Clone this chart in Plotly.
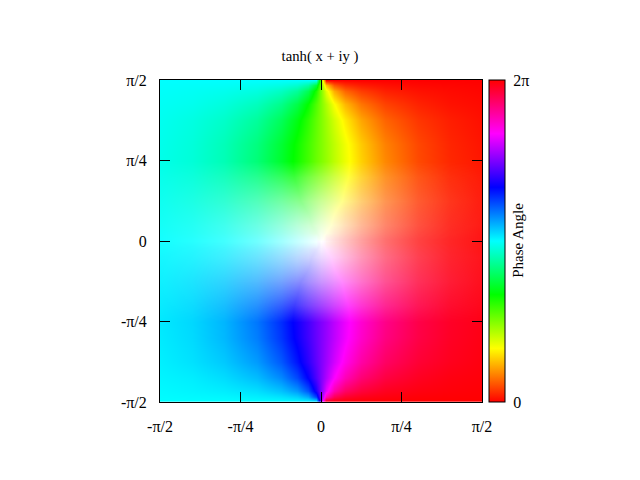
import plotly.graph_objects as go

# Grid nodes, in units of pi/2
x_nodes = [-1, -.8, -.6, -.4, -.25, -.15, -.08, -.03, 0, .03, .08, .15, .25, .4, .6, .8, 1]
y_upper = [0, .004, .05, .1, .25, .4, .5, .6, .75, .85, .93, .97, 1]
y_lower = [-1, -.97, -.93, -.85, -.75, -.6, -.5, -.4, -.25, -.1, -.05, -.004, 0]
y_white = [-1, -.75, -.6, -.5, -.4, -.25, -.1, 0, .1, .25, .4, .5, .6, .75, 1]

# Phase angle (radians), upper half of the plane
phase_upper = [
    [3.14, 3.14, 3.14, 3.14, 3.14, 3.14, 3.14, 3.14, 1.57, 0, 0, 0, 0, 0, 0, 0, 0],
    [3.14, 3.14, 3.14, 3.14, 3.14, 3.14, 3.14, 3.14, 1.57, 0, 0, 0, 0, 0, 0, 0, 0],
    [3.13, 3.11, 3.09, 3.04, 2.96, 2.84, 2.59, 2.11, 1.57, 1.03, .55, .31, .18, .10, .05, .03, .01],
    [3.11, 3.09, 3.05, 2.95, 2.80, 2.58, 2.26, 1.86, 1.57, 1.28, .88, .56, .34, .19, .10, .05, .03],
    [3.08, 3.02, 2.92, 2.73, 2.46, 2.17, 1.91, 1.70, 1.57, 1.44, 1.23, .97, .68, .41, .22, .12, .06],
    [3.06, 2.99, 2.85, 2.61, 2.31, 2.04, 1.83, 1.67, 1.57, 1.47, 1.31, 1.10, .83, .53, .29, .15, .08],
    [3.05, 2.98, 2.84, 2.58, 2.28, 2.02, 1.82, 1.66, 1.57, 1.48, 1.32, 1.12, .86, .56, .30, .16, .09],
    [3.06, 2.99, 2.85, 2.61, 2.31, 2.04, 1.83, 1.67, 1.57, 1.47, 1.31, 1.10, .83, .53, .29, .15, .08],
    [3.08, 3.02, 2.92, 2.73, 2.46, 2.17, 1.91, 1.70, 1.57, 1.44, 1.23, .97, .68, .41, .22, .12, .06],
    [3.10, 3.07, 3.00, 2.87, 2.66, 2.39, 2.08, 1.77, 1.57, 1.37, 1.06, .75, .48, .27, .14, .07, .04],
    [3.12, 3.10, 3.07, 3.01, 2.89, 2.72, 2.43, 1.98, 1.57, 1.16, .71, .42, .25, .13, .07, .04, .02],
    [3.13, 3.12, 3.11, 3.08, 3.03, 2.95, 2.78, 2.35, 1.57, .79, .36, .19, .11, .06, .03, .02, .01],
    [3.14, 3.14, 3.14, 3.14, 3.14, 3.14, 3.14, 3.14, 1.57, 0, 0, 0, 0, 0, 0, 0, 0],
]

# Phase angle (radians), lower half of the plane
phase_lower = [
    [3.14, 3.14, 3.14, 3.14, 3.14, 3.14, 3.14, 3.14, 4.71, 6.28, 6.28, 6.28, 6.28, 6.28, 6.28, 6.28, 6.28],
    [3.15, 3.16, 3.17, 3.20, 3.25, 3.33, 3.50, 3.93, 4.71, 5.49, 5.92, 6.09, 6.17, 6.22, 6.25, 6.26, 6.27],
    [3.16, 3.18, 3.21, 3.27, 3.39, 3.56, 3.85, 4.30, 4.71, 5.12, 5.57, 5.86, 6.03, 6.15, 6.21, 6.24, 6.26],
    [3.18, 3.21, 3.28, 3.41, 3.62, 3.89, 4.20, 4.51, 4.71, 4.91, 5.22, 5.53, 5.80, 6.01, 6.14, 6.21, 6.24],
    [3.20, 3.26, 3.36, 3.55, 3.82, 4.11, 4.37, 4.58, 4.71, 4.84, 5.05, 5.31, 5.60, 5.87, 6.06, 6.16, 6.22],
    [3.22, 3.29, 3.43, 3.67, 3.97, 4.24, 4.45, 4.61, 4.71, 4.81, 4.97, 5.18, 5.45, 5.75, 5.99, 6.13, 6.20],
    [3.23, 3.30, 3.44, 3.70, 4.00, 4.26, 4.46, 4.62, 4.71, 4.80, 4.96, 5.16, 5.42, 5.72, 5.98, 6.12, 6.19],
    [3.22, 3.29, 3.43, 3.67, 3.97, 4.24, 4.45, 4.61, 4.71, 4.81, 4.97, 5.18, 5.45, 5.75, 5.99, 6.13, 6.20],
    [3.20, 3.26, 3.36, 3.55, 3.82, 4.11, 4.37, 4.58, 4.71, 4.84, 5.05, 5.31, 5.60, 5.87, 6.06, 6.16, 6.22],
    [3.17, 3.19, 3.23, 3.33, 3.48, 3.70, 4.02, 4.42, 4.71, 5.00, 5.40, 5.72, 5.94, 6.09, 6.18, 6.23, 6.25],
    [3.15, 3.17, 3.19, 3.24, 3.32, 3.45, 3.69, 4.17, 4.71, 5.25, 5.73, 5.97, 6.10, 6.18, 6.23, 6.25, 6.27],
    [3.14, 3.14, 3.14, 3.14, 3.14, 3.14, 3.14, 3.14, 4.71, 6.28, 6.28, 6.28, 6.28, 6.28, 6.28, 6.28, 6.28],
    [3.14, 3.14, 3.14, 3.14, 3.14, 3.14, 3.14, 3.14, 4.71, 6.28, 6.28, 6.28, 6.28, 6.28, 6.28, 6.28, 6.28],
]

# Colour saturation (0 = white, 1 = full hue)
saturation = [
    [1] * 17,
    [1] * 17,
    [1] * 17,
    [1] * 17,
    [.97, .95, .91, .85, .79, .75, .73, .73, .73, .73, .73, .75, .79, .85, .91, .95, .97],
    [.94, .89, .81, .68, .55, .47, .43, .42, .41, .42, .43, .47, .55, .68, .81, .89, .94],
    [.92, .86, .75, .58, .41, .28, .20, .17, .16, .17, .20, .28, .41, .58, .75, .86, .92],
    [.92, .85, .74, .56, .37, .23, .13, .05, 0, .05, .13, .23, .37, .56, .74, .85, .92],
    [.92, .86, .75, .58, .41, .28, .20, .17, .16, .17, .20, .28, .41, .58, .75, .86, .92],
    [.94, .89, .81, .68, .55, .47, .43, .42, .41, .42, .43, .47, .55, .68, .81, .89, .94],
    [.97, .95, .91, .85, .79, .75, .73, .73, .73, .73, .73, .75, .79, .85, .91, .95, .97],
    [1] * 17,
    [1] * 17,
    [1] * 17,
    [1] * 17,
]

tick_vals = [-1, -.5, 0, .5, 1]
x_tick_labels = ["-π/2", "-π/4", "0", "π/4", "π/2"]
y_tick_labels = ["-π/2", "-π/4", "0", "π/4", "π/2"]
bar_tick_vals = [0, 6.28]
bar_tick_labels = ["0", "2π"]

FONT = "Liberation Serif"
hue_scale = [[0, "#ff0000"], [1/6, "#ffff00"], [2/6, "#00ff00"], [3/6, "#00ffff"],
             [4/6, "#0000ff"], [5/6, "#ff00ff"], [1, "#ff0000"]]
white_scale = [[0, "rgba(255,255,255,1)"], [1, "rgba(255,255,255,0)"]]

fig = go.Figure()
fig.add_trace(go.Heatmap(x=x_nodes, y=y_upper, z=phase_upper, coloraxis="coloraxis",
                         zsmooth="best", hoverinfo="skip"))
fig.add_trace(go.Heatmap(x=x_nodes, y=y_lower, z=phase_lower, coloraxis="coloraxis",
                         zsmooth="best", hoverinfo="skip"))
fig.add_trace(go.Heatmap(x=x_nodes, y=y_white, z=saturation, zmin=0, zmax=1,
                         colorscale=white_scale, showscale=False,
                         zsmooth="best", hoverinfo="skip"))

axis_style = dict(range=[-1, 1], tickvals=tick_vals, ticks="inside", ticklen=10, tickwidth=1,
                  tickcolor="black", showline=True, linecolor="black", linewidth=1,
                  mirror="allticks", showgrid=False, zeroline=False,
                  tickfont=dict(family=FONT, size=16, color="black"))

fig.update_layout(
    width=640, height=480,
    margin=dict(l=152, r=166, t=72, b=86),
    paper_bgcolor="white", plot_bgcolor="white",
    showlegend=False,
    title=dict(text="tanh( x + iy )", x=0.4875, xanchor="center", y=0.9, yanchor="middle",
               font=dict(family=FONT, size=14.7, color="black")),
    xaxis=dict(ticktext=x_tick_labels, ticklabelstandoff=10, **axis_style),
    yaxis=dict(ticktext=y_tick_labels, ticklabelstandoff=9, **axis_style),
    coloraxis=dict(
        colorscale=hue_scale, cmin=0, cmax=6.28,
        colorbar=dict(x=1.023, xanchor="left", xref="paper", y=0.5, yanchor="middle", len=1,
                      lenmode="fraction", thickness=16, thicknessmode="pixels",
                      outlinecolor="black", outlinewidth=1, tickvals=bar_tick_vals,
                      ticktext=bar_tick_labels, ticks="outside", ticklen=5,
                      tickcolor="rgba(0,0,0,0)", ypad=0, xpad=0,
                      tickfont=dict(family=FONT, size=16, color="black")),
    ),
    annotations=[dict(text="Phase Angle", xref="paper", yref="paper", x=1.113, y=0.502,
                      textangle=-90, showarrow=False, xanchor="center", yanchor="middle",
                      font=dict(family=FONT, size=15, color="black"))],
)

fig.write_html("out.html")
